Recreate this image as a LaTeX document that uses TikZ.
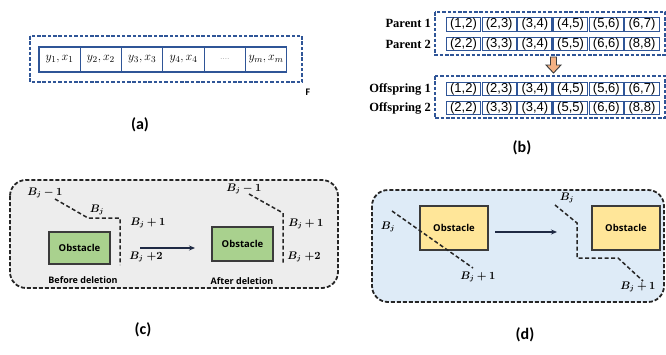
\documentclass[tikz,border=0pt]{standalone}
\usepackage{fontspec}
\usepackage{amsmath}
\usepackage{bm}
\usetikzlibrary{arrows.meta}
\newfontfamily\labelfont{Carlito}
\newfontfamily\uifont{Open Sans}
\newfontfamily\cellfont{Liberation Sans}
\newfontfamily\rowfont{Liberation Serif}

\definecolor{navy}{HTML}{2F5597}
\definecolor{panelgrey}{HTML}{EDEDED}
\definecolor{panelblue}{HTML}{DEEBF7}
\definecolor{obsgreen}{HTML}{A9D18E}
\definecolor{obsyellow}{HTML}{FFE699}
\definecolor{arroworange}{HTML}{F4B183}
\definecolor{edgedark}{HTML}{3B3B3B}
\definecolor{arrownavy}{HTML}{1F2A44}

% the elided gene cell
\newcommand\genegap{{\color{black!60}\fontsize{8}{8}\selectfont....}}

\tikzset{
  frame/.style={draw=navy, line width=1.5pt, dash pattern=on 3.5pt off 1.8pt},
  gene/.style={draw=navy, line width=1.2pt, minimum width=41.3pt, minimum height=25pt,
    inner sep=0pt, font=\fontsize{13}{13}\selectfont},
  pair/.style={draw=navy, line width=1.1pt, minimum width=34.2pt, minimum height=13.5pt,
    inner sep=0pt, font=\cellfont\fontsize{13}{13}\selectfont},
  rowname/.style={anchor=east, inner sep=0pt, font=\rowfont\bfseries\fontsize{12.5}{13}\selectfont},
  caption/.style={inner sep=0pt, font=\labelfont\bfseries\fontsize{16}{16}\selectfont},
  panel/.style={draw=black!85, line width=1.8pt, dash pattern=on 4pt off 2pt, rounded corners=16pt},
  obstacle/.style={draw=edgedark, line width=1.6pt, inner sep=0pt, font=\uifont\bfseries\fontsize{9.5}{10}\selectfont},
  route/.style={draw=black!85, line width=1.5pt, dash pattern=on 4pt off 2.5pt},
  blabel/.style={inner sep=0pt, font=\fontsize{10.5}{11}\selectfont},
  note/.style={inner sep=0pt, font=\uifont\bfseries\fontsize{9}{10}\selectfont},
  move/.style={draw=arrownavy, line width=1.5pt, -{Stealth[length=6pt,width=5pt]}},
}

\begin{document}
\begin{tikzpicture}[x=1pt,y=-1pt]
\useasboundingbox (0,0) rectangle (666,354);

% ---------- (a) chromosome encoding ----------
\draw[frame] (30,36) rectangle (302,82);
\foreach \t [count=\i] in {{$y_1,x_1$},{$y_2,x_2$},{$y_3,x_3$},{$y_4,x_4$},{\genegap},{$y_m,x_m$}}
  \node[gene] (a\i) at ({59.6+41.3*(\i-1)},59.5) {\t};
\node[inner sep=0pt, font=\labelfont\bfseries\fontsize{10}{10}\selectfont] (F) at (308,92) {F};
\node[caption] (capa) at (140,125) {(a)};

% ---------- (b) crossover ----------
\draw[frame] (435,12) rectangle (665,55);
\draw[frame] (435,76) rectangle (665,118);
\foreach \t [count=\i] in {{(1,2)},{(2,3)},{(3,4)},{(4,5)},{(5,6)},{(6,7)}} {
  \node[pair] (p1c\i) at ({463.5+35.7*(\i-1)},24.5) {\t};
  \node[pair] (o1c\i) at ({463.5+35.7*(\i-1)},89) {\t};
}
\foreach \t [count=\i] in {{(2,2)},{(3,3)},{(3,4)},{(5,5)},{(6,6)},{(8,8)}} {
  \node[pair] (p2c\i) at ({463.5+35.7*(\i-1)},44) {\t};
  \node[pair] (o2c\i) at ({463.5+35.7*(\i-1)},108) {\t};
}
\node[rowname] (p1) at (431,23.5) {Parent 1};
\node[rowname] (p2) at (431,44) {Parent 2};
\node[rowname] (o1) at (431,89) {Offspring 1};
\node[rowname] (o2) at (431,108) {Offspring 2};
\draw[draw=edgedark, line width=0.9pt, fill=arroworange, line join=miter]
  (550.5,57) -- (556.5,57) -- (556.5,65) -- (561,65) -- (553.5,73) -- (546,65) -- (550.5,65) -- cycle;
\node[caption] (capb) at (522,148) {(b)};

% ---------- (c) redundant point deletion ----------
\draw[panel, fill=panelgrey] (10,180) rectangle (338,288);
\node[obstacle, fill=obsgreen, minimum width=61pt, minimum height=32pt] (obs1) at (79.5,248) {Obstacle};
\node[obstacle, fill=obsgreen, minimum width=61pt, minimum height=34pt] (obs2) at (242.5,244) {Obstacle};
\coordinate (c1) at (55,199);
\coordinate (c2) at (88,218);
\coordinate (c3) at (120,218);
\coordinate (c4) at (120,265);
\draw[route] (c1) -- (c2) -- (c3) -- (c4);
\coordinate (c5) at (249,194);
\coordinate (c6) at (283,213);
\coordinate (c7) at (283,263);
\draw[route] (c5) -- (c6) -- (c7);
\node[blabel] (cl1) at (45,193) {$\bm{B_j - 1}$};
\node[blabel] (cl2) at (97,210) {$\bm{B_j}$};
\node[blabel] (cl3) at (148,223) {$\bm{B_j + 1}$};
\node[blabel] (cl4) at (146,257) {$\bm{B_j\;{+}2}$};
\node[blabel] (cl5) at (244,189) {$\bm{B_j - 1}$};
\node[blabel] (cl6) at (306,224) {$\bm{B_j + 1}$};
\node[blabel] (cl7) at (304,257) {$\bm{B_j\;{+}2}$};
\node[note] (before) at (83,280) {Before deletion};
\node[note] (after) at (242,281) {After deletion};
\coordinate (cs) at (140,248);
\coordinate (ce) at (195,248);
\draw[move] (cs) -- (ce);
\node[caption] (capc) at (143,330) {(c)};

% ---------- (d) point insertion around an obstacle ----------
\draw[panel, fill=panelblue] (372,190) rectangle (664,302);
\node[obstacle, fill=obsyellow, minimum width=68pt, minimum height=44pt] (obs3) at (454,228) {Obstacle};
\node[obstacle, fill=obsyellow, minimum width=68pt, minimum height=44pt] (obs4) at (626,228) {Obstacle};
\coordinate (d1) at (392,211);
\coordinate (d2) at (473,268);
\draw[route] (d1) -- (d2);
\coordinate (d3) at (555,205);
\coordinate (d4) at (577,223);
\coordinate (d5) at (577,258);
\coordinate (d6) at (618,258);
\coordinate (d7) at (643,281);
\draw[route] (d3) -- (d4) -- (d5) -- (d6) -- (d7);
\node[blabel] (dl1) at (388,227) {$\bm{B_j}$};
\node[blabel] (dl2) at (478,277) {$\bm{B_j + 1}$};
\node[blabel] (dl3) at (567,198) {$\bm{B_j}$};
\node[blabel] (dl4) at (638,287) {$\bm{B_j + 1}$};
\coordinate (ds) at (495,232);
\coordinate (de) at (557,232);
\draw[move] (ds) -- (de);
\node[caption] (capd) at (525,335) {(d)};
\end{tikzpicture}
\end{document}
